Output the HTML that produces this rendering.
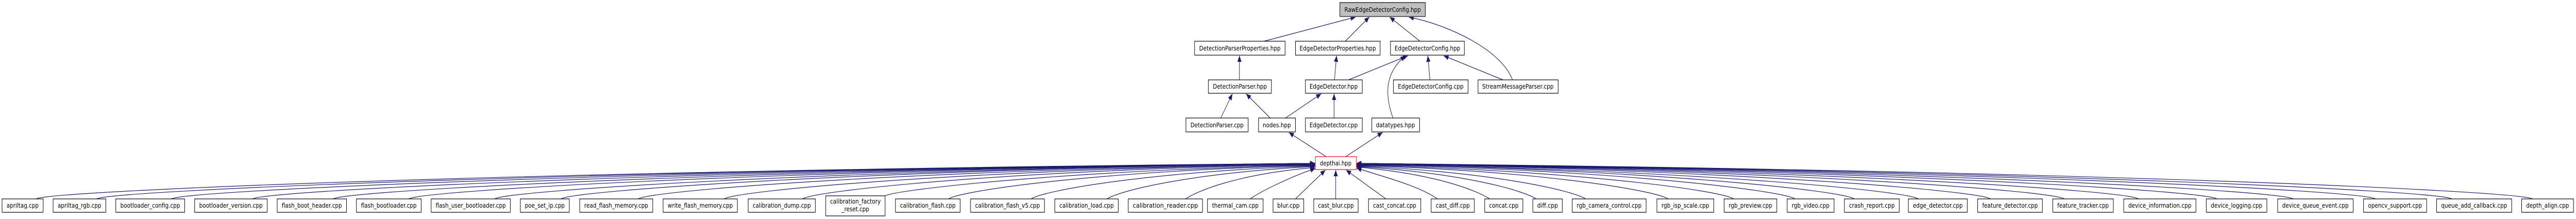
<!DOCTYPE html>
<html><head><meta charset="utf-8"><style>
html,body{margin:0;padding:0;background:#fff;width:100%;height:100%;overflow:hidden;}
svg{display:block;position:absolute;left:0;top:0;width:100vw;height:100vh;}
.b{fill:#fff;stroke:#000;stroke-width:1.2;}
.s{stroke:#666;stroke-width:2;}
.t{font-family:"DejaVu Sans","Liberation Sans",sans-serif;font-size:12px;fill:#000;}
.e{fill:none;stroke:#191970;stroke-width:1.2;}
</style></head><body>
<svg viewBox="0 0 6208 425" preserveAspectRatio="none" xmlns="http://www.w3.org/2000/svg">
<defs>
<marker id="a" markerUnits="userSpaceOnUse" markerWidth="13" markerHeight="10" refX="12" refY="5" orient="auto">
<path d="M0,0 L12,5 L0,10 Z" fill="#191970"/>
</marker>
</defs>

<g class="e" marker-end="url(#a)">
<path d="M3046,80 L3267,33"/>
<path d="M3242,80 L3300,33"/>
<path d="M3422,80 L3349,33"/>
<path d="M3645,155 C3620,100 3500,50 3395,33"/>
<path d="M2987,155 L2987,108"/>
<path d="M2942,229 L2970,182"/>
<path d="M3061,229 L3003,182"/>
<path d="M3216,155 L3221,108"/>
<path d="M3250,155 L3393,108"/>
<path d="M3446,155 L3441,108"/>
<path d="M3622,155 L3479,108"/>
<path d="M3357,229 C3335,180 3340,140 3387,108"/>
<path d="M3098,229 L3184,182"/>
<path d="M3215,229 L3215,182"/>
<path d="M3196,304 L3106,257"/>
<path d="M3243,304 L3332,257"/>
</g>

<g class="e" marker-end="url(#a)">
<path d="M87,386 C117,370 1320,330 3169,317"/>
<path d="M233,386 C263,370 1407,330 3169,317"/>
<path d="M413,386 C443,370 1515,330 3169,317"/>
<path d="M609,386 C639,370 1633,330 3169,317"/>
<path d="M803,386 C833,370 1749,330 3169,317"/>
<path d="M985,386 C1015,370 1859,330 3169,317"/>
<path d="M1192,386 C1222,370 1983,330 3169,317"/>
<path d="M1352,386 C1382,370 2079,330 3169,317"/>
<path d="M1538,386 C1568,370 2190,330 3169,318"/>
<path d="M1745,386 C1775,370 2315,330 3169,318"/>
<path d="M1934,386 C1964,370 2428,330 3169,319"/>
<path d="M2133,380 C2163,368 2547,332 3169,320"/>
<path d="M2286,386 C2316,370 2639,332 3169,321"/>
<path d="M2485,386 C2515,370 2759,334 3169,322"/>
<path d="M2668,386 C2698,370 2868,336 3169,323"/>
<path d="M2857,386 C2887,370 2982,338 3169,325"/>
<path d="M3013,386 C3040,370 3120,340 3170,327"/>
<path d="M3122,386 L3194,330"/>
<path d="M3219,386 L3219,330"/>
<path d="M3340,386 L3244,330"/>
<path d="M3464,386 C3420,360 3320,340 3269,326"/>
<path d="M3590,386 C3560,370 3462,338 3269,324"/>
<path d="M3702,386 C3672,370 3529,336 3269,323"/>
<path d="M3821,386 C3791,370 3600,334 3269,322"/>
<path d="M4020,386 C3990,370 3720,332 3269,321"/>
<path d="M4178,386 C4148,370 3814,332 3269,320"/>
<path d="M4326,386 C4296,370 3903,330 3269,319"/>
<path d="M4469,386 C4439,370 3989,330 3269,318"/>
<path d="M4623,386 C4593,370 4081,330 3269,318"/>
<path d="M4797,386 C4767,370 4186,330 3269,317"/>
<path d="M4975,386 C4945,370 4293,330 3269,317"/>
<path d="M5154,386 C5124,370 4400,330 3269,317"/>
<path d="M5343,386 C5313,370 4513,330 3269,317"/>
<path d="M5526,386 C5496,370 4623,330 3269,317"/>
<path d="M5725,386 C5695,370 4743,330 3269,317"/>
<path d="M5909,386 C5879,370 4853,330 3269,317"/>
<path d="M6103,386 C6073,370 4969,330 3269,317"/>
</g>

<rect x="3229" y="5" width="206" height="27" style="fill:#bfbfbf;stroke:#000;stroke-width:1.2"/><line class="s" x1="3229" y1="32" x2="3435" y2="32"/>
<text class="t" x="3332" y="23" text-anchor="middle" textLength="184" lengthAdjust="spacingAndGlyphs">RawEdgeDetectorConfig.hpp</text>

<rect class="b" x="2879" y="80" width="218" height="27"/><line class="s" x1="2879" y1="107" x2="3097" y2="107"/>
<text class="t" x="2988" y="98" text-anchor="middle" textLength="196" lengthAdjust="spacingAndGlyphs">DetectionParserProperties.hpp</text>
<rect class="b" x="3122" y="80" width="204" height="27"/><line class="s" x1="3122" y1="107" x2="3326" y2="107"/>
<text class="t" x="3224" y="98" text-anchor="middle" textLength="184" lengthAdjust="spacingAndGlyphs">EdgeDetectorProperties.hpp</text>
<rect class="b" x="3351" y="80" width="178" height="27"/><line class="s" x1="3351" y1="107" x2="3529" y2="107"/>
<text class="t" x="3440" y="98" text-anchor="middle" textLength="158" lengthAdjust="spacingAndGlyphs">EdgeDetectorConfig.hpp</text>

<rect class="b" x="2912" y="155" width="152" height="26"/><line class="s" x1="2912" y1="181" x2="3064" y2="181"/>
<text class="t" x="2988" y="172" text-anchor="middle" textLength="130" lengthAdjust="spacingAndGlyphs">DetectionParser.hpp</text>
<rect class="b" x="3146" y="155" width="137" height="26"/><line class="s" x1="3146" y1="181" x2="3283" y2="181"/>
<text class="t" x="3214" y="172" text-anchor="middle" textLength="116" lengthAdjust="spacingAndGlyphs">EdgeDetector.hpp</text>
<rect class="b" x="3358" y="155" width="180" height="26"/><line class="s" x1="3358" y1="181" x2="3538" y2="181"/>
<text class="t" x="3448" y="172" text-anchor="middle" textLength="158" lengthAdjust="spacingAndGlyphs">EdgeDetectorConfig.cpp</text>
<rect class="b" x="3562" y="155" width="193" height="26"/><line class="s" x1="3562" y1="181" x2="3755" y2="181"/>
<text class="t" x="3658" y="172" text-anchor="middle" textLength="172" lengthAdjust="spacingAndGlyphs">StreamMessageParser.cpp</text>

<rect class="b" x="2858" y="229" width="150" height="27"/><line class="s" x1="2858" y1="256" x2="3008" y2="256"/>
<text class="t" x="2933" y="247" text-anchor="middle" textLength="128" lengthAdjust="spacingAndGlyphs">DetectionParser.cpp</text>
<rect class="b" x="3033" y="229" width="89" height="27"/><line class="s" x1="3033" y1="256" x2="3122" y2="256"/>
<text class="t" x="3077" y="247" text-anchor="middle" textLength="68" lengthAdjust="spacingAndGlyphs">nodes.hpp</text>
<rect class="b" x="3146" y="229" width="137" height="27"/><line class="s" x1="3146" y1="256" x2="3283" y2="256"/>
<text class="t" x="3214" y="247" text-anchor="middle" textLength="116" lengthAdjust="spacingAndGlyphs">EdgeDetector.cpp</text>
<rect class="b" x="3306" y="229" width="115" height="27"/><line class="s" x1="3306" y1="256" x2="3421" y2="256"/>
<text class="t" x="3363" y="247" text-anchor="middle" textLength="94" lengthAdjust="spacingAndGlyphs">datatypes.hpp</text>

<rect x="3170" y="304" width="99" height="25" style="fill:#fff;stroke:#ff0000;stroke-width:1.2"/>
<text class="t" x="3219" y="321" text-anchor="middle" textLength="76" lengthAdjust="spacingAndGlyphs">depthai.hpp</text>

<g>
<rect class="b" x="5" y="386" width="99" height="26"/><line class="s" x1="5" y1="412" x2="104" y2="412"/>
<text class="t" x="54.5" y="403" text-anchor="middle" textLength="77" lengthAdjust="spacingAndGlyphs">apriltag.cpp</text>
<rect class="b" x="128" y="386" width="127" height="26"/><line class="s" x1="128" y1="412" x2="255" y2="412"/>
<text class="t" x="191.5" y="403" text-anchor="middle" textLength="105" lengthAdjust="spacingAndGlyphs">apriltag_rgb.cpp</text>
<rect class="b" x="279" y="386" width="166" height="26"/><line class="s" x1="279" y1="412" x2="445" y2="412"/>
<text class="t" x="362" y="403" text-anchor="middle" textLength="144" lengthAdjust="spacingAndGlyphs">bootloader_config.cpp</text>
<rect class="b" x="469" y="386" width="175" height="26"/><line class="s" x1="469" y1="412" x2="644" y2="412"/>
<text class="t" x="556.5" y="403" text-anchor="middle" textLength="153" lengthAdjust="spacingAndGlyphs">bootloader_version.cpp</text>
<rect class="b" x="668" y="386" width="167" height="26"/><line class="s" x1="668" y1="412" x2="835" y2="412"/>
<text class="t" x="751.5" y="403" text-anchor="middle" textLength="145" lengthAdjust="spacingAndGlyphs">flash_boot_header.cpp</text>
<rect class="b" x="859" y="386" width="156" height="26"/><line class="s" x1="859" y1="412" x2="1015" y2="412"/>
<text class="t" x="937" y="403" text-anchor="middle" textLength="134" lengthAdjust="spacingAndGlyphs">flash_bootloader.cpp</text>
<rect class="b" x="1039" y="386" width="191" height="26"/><line class="s" x1="1039" y1="412" x2="1230" y2="412"/>
<text class="t" x="1134.5" y="403" text-anchor="middle" textLength="169" lengthAdjust="spacingAndGlyphs">flash_user_bootloader.cpp</text>
<rect class="b" x="1254" y="386" width="118" height="26"/><line class="s" x1="1254" y1="412" x2="1372" y2="412"/>
<text class="t" x="1313" y="403" text-anchor="middle" textLength="96" lengthAdjust="spacingAndGlyphs">poe_set_ip.cpp</text>
<rect class="b" x="1397" y="386" width="176" height="26"/><line class="s" x1="1397" y1="412" x2="1573" y2="412"/>
<text class="t" x="1485" y="403" text-anchor="middle" textLength="154" lengthAdjust="spacingAndGlyphs">read_flash_memory.cpp</text>
<rect class="b" x="1598" y="386" width="179" height="26"/><line class="s" x1="1598" y1="412" x2="1777" y2="412"/>
<text class="t" x="1687.5" y="403" text-anchor="middle" textLength="157" lengthAdjust="spacingAndGlyphs">write_flash_memory.cpp</text>
<rect class="b" x="1803" y="386" width="162" height="26"/><line class="s" x1="1803" y1="412" x2="1965" y2="412"/>
<text class="t" x="1884" y="403" text-anchor="middle" textLength="140" lengthAdjust="spacingAndGlyphs">calibration_dump.cpp</text>
<rect class="b" x="1990" y="380" width="143" height="39"/><line class="s" x1="1990" y1="419" x2="2133" y2="419"/>
<text class="t" x="2061.5" y="395" text-anchor="middle" textLength="122" lengthAdjust="spacingAndGlyphs">calibration_factory</text>
<text class="t" x="2061.5" y="410" text-anchor="middle" textLength="66" lengthAdjust="spacingAndGlyphs">_reset.cpp</text>
<rect class="b" x="2158" y="386" width="156" height="26"/><line class="s" x1="2158" y1="412" x2="2314" y2="412"/>
<text class="t" x="2236" y="403" text-anchor="middle" textLength="134" lengthAdjust="spacingAndGlyphs">calibration_flash.cpp</text>
<rect class="b" x="2339" y="386" width="178" height="26"/><line class="s" x1="2339" y1="412" x2="2517" y2="412"/>
<text class="t" x="2428" y="403" text-anchor="middle" textLength="156" lengthAdjust="spacingAndGlyphs">calibration_flash_v5.cpp</text>
<rect class="b" x="2542" y="386" width="153" height="26"/><line class="s" x1="2542" y1="412" x2="2695" y2="412"/>
<text class="t" x="2618.5" y="403" text-anchor="middle" textLength="131" lengthAdjust="spacingAndGlyphs">calibration_load.cpp</text>
<rect class="b" x="2719" y="386" width="179" height="26"/><line class="s" x1="2719" y1="412" x2="2898" y2="412"/>
<text class="t" x="2808.5" y="403" text-anchor="middle" textLength="157" lengthAdjust="spacingAndGlyphs">calibration_reader.cpp</text>
<rect class="b" x="2910" y="386" width="134" height="26"/><line class="s" x1="2910" y1="412" x2="3044" y2="412"/>
<text class="t" x="2977" y="403" text-anchor="middle" textLength="112" lengthAdjust="spacingAndGlyphs">thermal_cam.cpp</text>
<rect class="b" x="3068" y="386" width="74" height="26"/><line class="s" x1="3068" y1="412" x2="3142" y2="412"/>
<text class="t" x="3105" y="403" text-anchor="middle" textLength="54" lengthAdjust="spacingAndGlyphs">blur.cpp</text>
<rect class="b" x="3166" y="386" width="107" height="26"/><line class="s" x1="3166" y1="412" x2="3273" y2="412"/>
<text class="t" x="3219.5" y="403" text-anchor="middle" textLength="86" lengthAdjust="spacingAndGlyphs">cast_blur.cpp</text>
<rect class="b" x="3298" y="386" width="126" height="26"/><line class="s" x1="3298" y1="412" x2="3424" y2="412"/>
<text class="t" x="3361" y="403" text-anchor="middle" textLength="104" lengthAdjust="spacingAndGlyphs">cast_concat.cpp</text>
<rect class="b" x="3449" y="386" width="104" height="26"/><line class="s" x1="3449" y1="412" x2="3553" y2="412"/>
<text class="t" x="3501" y="403" text-anchor="middle" textLength="82" lengthAdjust="spacingAndGlyphs">cast_diff.cpp</text>
<rect class="b" x="3578" y="386" width="92" height="26"/><line class="s" x1="3578" y1="412" x2="3670" y2="412"/>
<text class="t" x="3624" y="403" text-anchor="middle" textLength="71" lengthAdjust="spacingAndGlyphs">concat.cpp</text>
<rect class="b" x="3694" y="386" width="71" height="26"/><line class="s" x1="3694" y1="412" x2="3765" y2="412"/>
<text class="t" x="3729.5" y="403" text-anchor="middle" textLength="50" lengthAdjust="spacingAndGlyphs">diff.cpp</text>
<rect class="b" x="3789" y="386" width="178" height="26"/><line class="s" x1="3789" y1="412" x2="3967" y2="412"/>
<text class="t" x="3878" y="403" text-anchor="middle" textLength="156" lengthAdjust="spacingAndGlyphs">rgb_camera_control.cpp</text>
<rect class="b" x="3993" y="386" width="137" height="26"/><line class="s" x1="3993" y1="412" x2="4130" y2="412"/>
<text class="t" x="4061.5" y="403" text-anchor="middle" textLength="115" lengthAdjust="spacingAndGlyphs">rgb_isp_scale.cpp</text>
<rect class="b" x="4155" y="386" width="127" height="26"/><line class="s" x1="4155" y1="412" x2="4282" y2="412"/>
<text class="t" x="4218.5" y="403" text-anchor="middle" textLength="105" lengthAdjust="spacingAndGlyphs">rgb_preview.cpp</text>
<rect class="b" x="4307" y="386" width="113" height="26"/><line class="s" x1="4307" y1="412" x2="4420" y2="412"/>
<text class="t" x="4363.5" y="403" text-anchor="middle" textLength="91" lengthAdjust="spacingAndGlyphs">rgb_video.cpp</text>
<rect class="b" x="4445" y="386" width="132" height="26"/><line class="s" x1="4445" y1="412" x2="4577" y2="412"/>
<text class="t" x="4511" y="403" text-anchor="middle" textLength="110" lengthAdjust="spacingAndGlyphs">crash_report.cpp</text>
<rect class="b" x="4599" y="386" width="142" height="26"/><line class="s" x1="4599" y1="412" x2="4741" y2="412"/>
<text class="t" x="4670" y="403" text-anchor="middle" textLength="120" lengthAdjust="spacingAndGlyphs">edge_detector.cpp</text>
<rect class="b" x="4766" y="386" width="156" height="26"/><line class="s" x1="4766" y1="412" x2="4922" y2="412"/>
<text class="t" x="4844" y="403" text-anchor="middle" textLength="134" lengthAdjust="spacingAndGlyphs">feature_detector.cpp</text>
<rect class="b" x="4947" y="386" width="146" height="26"/><line class="s" x1="4947" y1="412" x2="5093" y2="412"/>
<text class="t" x="5020" y="403" text-anchor="middle" textLength="124" lengthAdjust="spacingAndGlyphs">feature_tracker.cpp</text>
<rect class="b" x="5118" y="386" width="174" height="26"/><line class="s" x1="5118" y1="412" x2="5292" y2="412"/>
<text class="t" x="5205" y="403" text-anchor="middle" textLength="152" lengthAdjust="spacingAndGlyphs">device_information.cpp</text>
<rect class="b" x="5317" y="386" width="146" height="26"/><line class="s" x1="5317" y1="412" x2="5463" y2="412"/>
<text class="t" x="5390" y="403" text-anchor="middle" textLength="124" lengthAdjust="spacingAndGlyphs">device_logging.cpp</text>
<rect class="b" x="5489" y="386" width="182" height="26"/><line class="s" x1="5489" y1="412" x2="5671" y2="412"/>
<text class="t" x="5580" y="403" text-anchor="middle" textLength="160" lengthAdjust="spacingAndGlyphs">device_queue_event.cpp</text>
<rect class="b" x="5696" y="386" width="152" height="26"/><line class="s" x1="5696" y1="412" x2="5848" y2="412"/>
<text class="t" x="5772" y="403" text-anchor="middle" textLength="130" lengthAdjust="spacingAndGlyphs">opencv_support.cpp</text>
<rect class="b" x="5872" y="386" width="181" height="26"/><line class="s" x1="5872" y1="412" x2="6053" y2="412"/>
<text class="t" x="5962.5" y="403" text-anchor="middle" textLength="159" lengthAdjust="spacingAndGlyphs">queue_add_callback.cpp</text>
<rect class="b" x="6077" y="386" width="125" height="26"/><line class="s" x1="6077" y1="412" x2="6202" y2="412"/>
<text class="t" x="6139.5" y="403" text-anchor="middle" textLength="103" lengthAdjust="spacingAndGlyphs">depth_align.cpp</text>
</g>
</svg>
</body></html>
